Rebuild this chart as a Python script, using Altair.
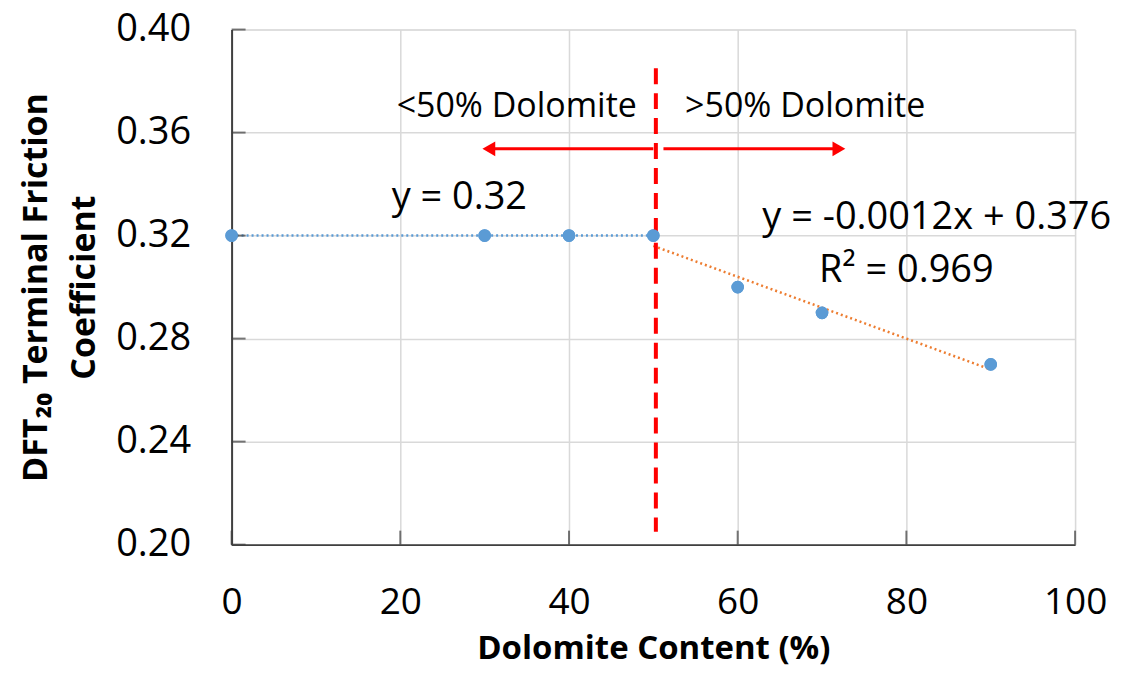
import altair as alt
import pandas as pd

# data
x_vals = [0, 30, 40, 50, 60, 70, 90]
y_vals = [0.32, 0.32, 0.32, 0.32, 0.30, 0.29, 0.27]

trend1_x = [0, 50]
trend1_y = [0.32, 0.32]
trend2_x = [50, 90]
trend2_y = [-0.0012 * 50 + 0.376, -0.0012 * 90 + 0.376]

divider_x = 50.3
divider_y = [0.385, 0.205]
arrow_y = 0.3537
arrow_left = [50.0, 30.5]
arrow_right = [51.2, 72.0]

region_labels = ["<50% Dolomite", ">50% Dolomite"]
region_x = [33.8, 68.0]
region_y = [0.370, 0.370]

eq_labels = ["y = 0.32", "y = -0.0012x + 0.376", "R² = 0.969"]
eq_x = [27.0, 83.6, 80.0]
eq_y = [0.3345, 0.3268, 0.3062]

x_ticks = [0, 20, 40, 60, 80, 100]
y_ticks = [0.20, 0.24, 0.28, 0.32, 0.36, 0.40]

FONT = "Open Sans"

pts = pd.DataFrame({"x": x_vals, "y": y_vals})
t1 = pd.DataFrame({"x": trend1_x, "y": trend1_y})
t2 = pd.DataFrame({"x": trend2_x, "y": trend2_y})
div = pd.DataFrame({"x": [divider_x, divider_x], "y": divider_y})
al = pd.DataFrame({"x": arrow_left, "y": [arrow_y, arrow_y]})
ar = pd.DataFrame({"x": arrow_right, "y": [arrow_y, arrow_y]})
heads = pd.DataFrame({"x": [arrow_left[1], arrow_right[1]], "y": [arrow_y, arrow_y],
                      "shape": ["triangle-left", "triangle-right"]})
rtxt = pd.DataFrame({"label": region_labels, "x": region_x, "y": region_y})
etxt = pd.DataFrame({"label": eq_labels, "x": eq_x, "y": eq_y})
xt = pd.DataFrame({"x": x_ticks})
yt = pd.DataFrame({"y": y_ticks})

xscale = alt.Scale(domain=[0, 100], nice=False)
yscale = alt.Scale(domain=[0.20, 0.40], nice=False, zero=False)

xenc = alt.X("x:Q", scale=xscale,
             axis=alt.Axis(values=x_ticks, title="Dolomite Content (%)", labelFontSize=37,
                           titleFontSize=33, titleFontWeight="bold", labelPadding=40,
                           titlePadding=12, ticks=False, domainColor="#404040", labelFlush=False,
                           domainWidth=2, gridColor="#D9D9D9", gridWidth=1.5,
                           labelFont=FONT, titleFont=FONT, labelColor="black", titleColor="black"))
yenc = alt.Y("y:Q", scale=yscale,
             axis=alt.Axis(values=y_ticks, format=".2f", title=["DFT₂₀ Terminal Friction", "Coefficient"],
                           labelFontSize=38, titleFontSize=34, titleFontWeight="bold", labelFlush=False,
                           labelPadding=41, titlePadding=14, ticks=False, domainColor="#404040",
                           domainWidth=2, gridColor="#D9D9D9", gridWidth=1.5,
                           labelFont=FONT, titleFont=FONT, labelColor="black", titleColor="black",
                           titleLineHeight=48))

base_pts = alt.Chart(pts).mark_circle(size=160, color="#5B9BD5", opacity=1).encode(x=xenc, y=yenc)

line1 = alt.Chart(t1).mark_line(color="#5B9BD5", strokeDash=[2, 3], strokeWidth=2.5).encode(x="x:Q", y="y:Q")
line2 = alt.Chart(t2).mark_line(color="#ED7D31", strokeDash=[2, 3], strokeWidth=2.5).encode(x="x:Q", y="y:Q")

divider = alt.Chart(div).mark_line(color="#FF0000", strokeDash=[16, 9], strokeWidth=4).encode(x="x:Q", y="y:Q")
arr1 = alt.Chart(al).mark_line(color="#FF0000", strokeWidth=3).encode(x="x:Q", y="y:Q")
arr2 = alt.Chart(ar).mark_line(color="#FF0000", strokeWidth=3).encode(x="x:Q", y="y:Q")
arrowheads = alt.Chart(heads).mark_point(filled=True, color="#FF0000", size=220, opacity=1).encode(
    x="x:Q", y="y:Q", shape=alt.Shape("shape:N", scale=None, legend=None))

xticks = alt.Chart(xt).mark_tick(color="#404040", thickness=2, size=14, orient="vertical", yOffset=-7).encode(
    x="x:Q", y=alt.datum(0.20))
yticks = alt.Chart(yt).mark_tick(color="#404040", thickness=2, size=14, orient="horizontal", xOffset=7).encode(
    y="y:Q", x=alt.datum(0))

rtexts = alt.Chart(rtxt).mark_text(fontSize=34, font=FONT, color="black", align="center", baseline="middle").encode(
    x="x:Q", y="y:Q", text="label:N")
etexts = alt.Chart(etxt).mark_text(fontSize=38, font=FONT, color="black", align="center", baseline="middle").encode(
    x="x:Q", y="y:Q", text="label:N")

chart = alt.layer(base_pts, line1, line2, divider, arr1, arr2, arrowheads, xticks, yticks, base_pts,
                  rtexts, etexts).properties(
    width=845, height=516
).configure_view(stroke=None).configure(padding={"left": 11, "top": 2, "right": 5, "bottom": 2})

chart.save("out.html", embed_options={"renderer": "svg", "actions": False})
